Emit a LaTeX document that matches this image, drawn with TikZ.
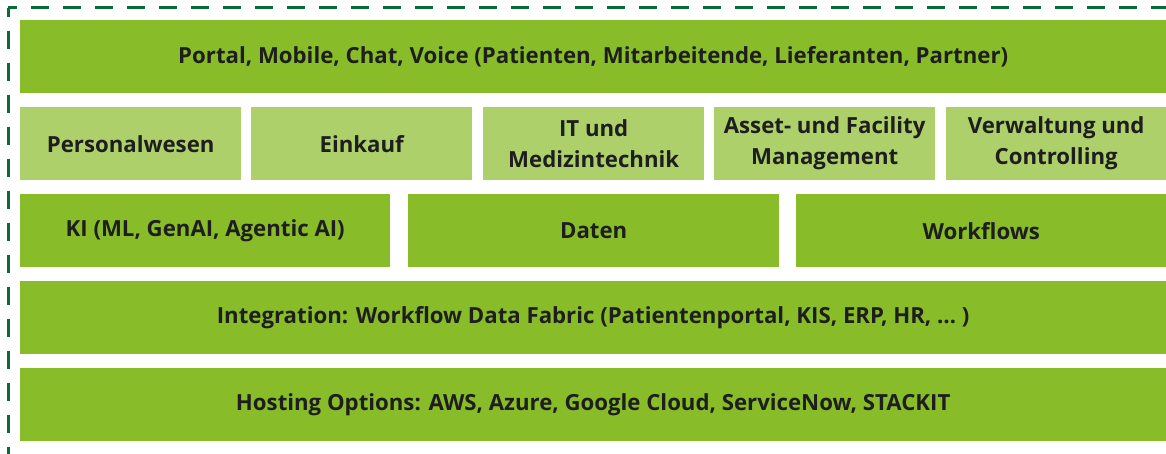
\documentclass[tikz,border=0pt]{standalone}
\usepackage{fontspec}
\setmainfont{Open Sans}
\definecolor{dkgreen}{HTML}{88BC29}
\definecolor{ltgreen}{HTML}{ADD06A}
\definecolor{bordergreen}{HTML}{0A6A38}
\definecolor{txt}{HTML}{1E1E1E}
\tikzset{
  box/.style={rectangle, inner sep=0pt, anchor=north west, text=txt,
    font=\fontsize{22.2}{31}\selectfont\bfseries, align=center},
  dk/.style={box, fill=dkgreen},
  lt/.style={box, fill=ltgreen},
  frameline/.style={draw=bordergreen, line width=3pt, dash pattern=on 18pt off 14pt, dash phase=9pt}
}
\begin{document}
\begin{tikzpicture}[x=1pt,y=-1pt]
\useasboundingbox (0,0) rectangle (1166,454);
\fill[white] (0,0) rectangle (1166,454);
\begin{scope}
\clip (0,0) rectangle (1166,454);
\coordinate (corner) at (8,8);
\coordinate (topend) at (1200,8);
\coordinate (leftend) at (8,480);
\draw[frameline] (corner) -- (topend);
\draw[frameline] (corner) -- (leftend);
\end{scope}
% row 1
\node[dk, minimum width=1146pt, minimum height=73pt] (portal) at (20,20)
  {Portal, Mobile, Chat, Voice (Patienten, Mitarbeitende, Lieferanten, Partner)};
% row 2
\node[lt, minimum width=221pt, minimum height=73pt] (pers) at (20,107) {Personalwesen};
\node[lt, minimum width=221pt, minimum height=73pt] (eink) at (251,107) {Einkauf};
\node[lt, minimum width=221pt, minimum height=73pt] (it) at (483,107) {IT und\\Medizintechnik};
\node[lt, minimum width=221pt, minimum height=73pt] (asset) at (714,107) {Asset- und Facility\\Management};
\node[lt, minimum width=220pt, minimum height=73pt] (verw) at (946,107) {Verwaltung und\\Controlling};
% row 3
\node[dk, minimum width=370pt, minimum height=73pt] (ki) at (20,194) {KI (ML, GenAI, Agentic AI)};
\node[dk, minimum width=371pt, minimum height=73pt] (daten) at (408,194) {Daten};
\node[dk, minimum width=370pt, minimum height=73pt] (wf) at (796,194) {Workflows};
% row 4
\node[dk, minimum width=1146pt, minimum height=73pt] (integ) at (20,281)
  {Integration: Workflow Data Fabric (Patientenportal, KIS, ERP, HR, \dots\ )};
% row 5
\node[dk, minimum width=1146pt, minimum height=73pt] (host) at (20,368)
  {Hosting Options: AWS, Azure, Google Cloud, ServiceNow, STACKIT};
\end{tikzpicture}
\end{document}
